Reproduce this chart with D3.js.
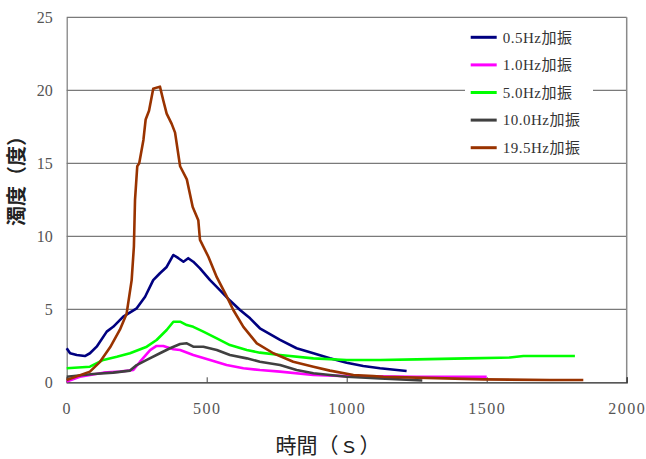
<!DOCTYPE html>
<html>
<head>
<meta charset="utf-8">
<script src="https://cdn.jsdelivr.net/npm/d3@7"></script>
<style>
  body { margin: 0; background: #fff; }
  svg { display: block; }
</style>
</head>
<body>
<div id="chart"></div>
<script>
// series: time (s) and turbidity (度)
var names = ["0.5Hz加振", "1.0Hz加振", "5.0Hz加振", "10.0Hz加振", "19.5Hz加振"];
var colors = ["#000080", "#ff00ff", "#00ff00", "#404040", "#993300"];

var t05 = [0, 12, 36, 65, 83, 107, 143, 166, 202, 250, 280, 309, 333, 357, 381, 399, 417, 434, 452, 476, 512, 548, 583, 619, 655, 690, 762, 821, 881, 940, 1000, 1059, 1119, 1214];
var v05 = [2.33, 1.99, 1.87, 1.8, 1.99, 2.44, 3.47, 3.8, 4.5, 5.07, 5.86, 7.0, 7.47, 7.9, 8.72, 8.5, 8.26, 8.5, 8.26, 7.8, 7.0, 6.3, 5.6, 4.95, 4.38, 3.7, 2.9, 2.33, 1.99, 1.64, 1.34, 1.12, 0.96, 0.77];

var t10 = [0, 47, 131, 190, 238, 262, 298, 321, 345, 381, 405, 452, 512, 571, 631, 690, 762, 881, 1000, 1250, 1500];
var v10 = [0.05, 0.38, 0.66, 0.73, 0.84, 1.41, 2.21, 2.49, 2.49, 2.26, 2.21, 1.87, 1.53, 1.18, 0.96, 0.84, 0.73, 0.5, 0.42, 0.38, 0.38];

var t50 = [0, 83, 131, 179, 226, 286, 321, 357, 381, 405, 429, 452, 488, 536, 583, 643, 690, 762, 881, 1000, 1119, 1250, 1429, 1548, 1583, 1631, 1815];
var v50 = [0.96, 1.07, 1.53, 1.75, 1.99, 2.44, 2.9, 3.58, 4.15, 4.15, 3.92, 3.8, 3.47, 3.01, 2.55, 2.21, 2.03, 1.87, 1.64, 1.53, 1.53, 1.57, 1.64, 1.68, 1.7, 1.8, 1.8];

var t100 = [0, 95, 166, 226, 250, 286, 333, 369, 405, 429, 452, 488, 536, 583, 643, 690, 762, 821, 881, 1000, 1119, 1270];
var v100 = [0.38, 0.57, 0.66, 0.8, 1.18, 1.53, 1.99, 2.33, 2.62, 2.67, 2.44, 2.44, 2.21, 1.87, 1.64, 1.41, 1.18, 0.84, 0.62, 0.38, 0.27, 0.12];

var t195 = [0, 83, 119, 155, 190, 214, 232, 240, 244, 252, 259, 274, 282, 294, 309, 324, 333, 345, 357, 375, 387, 405, 429, 450, 470, 476, 506, 536, 571, 595, 631, 679, 738, 809, 881, 940, 1024, 1095, 1131, 1250, 1488, 1726, 1845];
var v195 = [0.16, 0.73, 1.4, 2.4, 3.6, 4.7, 7.0, 9.3, 12.5, 14.8, 15.0, 16.6, 18.0, 18.6, 20.1, 20.2, 20.25, 19.3, 18.4, 17.7, 17.1, 14.8, 13.9, 12.0, 11.1, 9.75, 8.6, 7.2, 5.9, 4.95, 3.8, 2.67, 1.99, 1.41, 1.07, 0.8, 0.5, 0.43, 0.38, 0.32, 0.2, 0.16, 0.16];

var xTicks = [0, 500, 1000, 1500, 2000];
var yTicks = [0, 5, 10, 15, 20, 25];

var seriesT = [t05, t10, t50, t100, t195];
var seriesV = [v05, v10, v50, v100, v195];

var margin = {top: 17.3, right: 19.3, bottom: 76.7, left: 66.7},
    width = 646 - margin.left - margin.right,
    height = 459 - margin.top - margin.bottom;

var svg = d3.select("#chart")
  .append("svg")
    .attr("width", 646)
    .attr("height", 459)
  .append("g")
    .attr("transform", "translate(" + margin.left + "," + margin.top + ")");

var x = d3.scaleLinear().domain([0, 2000]).range([0, width]);
var y = d3.scaleLinear().domain([0, 25]).range([height, 0]);

// gridlines
svg.append("g")
  .selectAll("line")
  .data(yTicks.slice(1))
  .enter()
  .append("line")
    .attr("x1", 0)
    .attr("x2", width)
    .attr("y1", function (d) { return y(d); })
    .attr("y2", function (d) { return y(d); })
    .style("stroke", "#7a7a7a")
    .style("stroke-width", 1.2);

// right border
svg.append("line")
  .attr("x1", width).attr("x2", width)
  .attr("y1", 0).attr("y2", height)
  .style("stroke", "#8a8a8a")
  .style("stroke-width", 1.5);

// axes
var yAxis = svg.append("g")
  .call(d3.axisLeft(y).tickValues(yTicks).tickSize(0).tickPadding(14));
yAxis.select(".domain").style("stroke", "#7a7a7a").style("stroke-width", 1.2);
yAxis.selectAll("text")
  .style("font-family", "'Liberation Serif', 'Times New Roman', serif")
  .style("font-size", "16px")
  .style("fill", "#555");

var xAxis = svg.append("g")
  .attr("transform", "translate(0," + height + ")")
  .call(d3.axisBottom(x).tickValues(xTicks).tickFormat(d3.format("d")).tickSize(-5).tickPadding(20));
xAxis.select(".domain").style("stroke", "#222").style("stroke-width", 1.2);
xAxis.selectAll(".tick line").style("stroke", "#444");
xAxis.selectAll("text")
  .style("font-family", "'Liberation Serif', 'Times New Roman', serif")
  .style("font-size", "16px")
  .style("letter-spacing", "1.5px")
  .style("fill", "#555");

// legend background
var legend = svg.append("g").attr("transform", "translate(" + (465 - margin.left) + "," + (24 - margin.top) + ")");
legend.append("rect")
  .attr("width", 128)
  .attr("height", 136)
  .style("fill", "#fff");

// lines
var line = d3.line()
  .x(function (d) { return x(d[0]); })
  .y(function (d) { return y(d[1]); });

svg.append("g")
  .selectAll("path")
  .data(seriesT)
  .enter()
  .append("path")
    .attr("d", function (d, i) { return line(d3.zip(d, seriesV[i])); })
    .style("fill", "none")
    .style("stroke", function (d, i) { return colors[i]; })
    .style("stroke-width", 2.6)
    .style("stroke-linejoin", "round");

var rows = legend.selectAll(".row")
  .data(names)
  .enter()
  .append("g")
    .attr("transform", function (d, i) { return "translate(0," + (13.3 + i * 27.6) + ")"; });
rows.append("line")
  .attr("x1", 5.7).attr("x2", 31.7)
  .style("stroke", function (d, i) { return colors[i]; })
  .style("stroke-width", 3);
rows.append("text")
  .attr("x", 37.7)
  .attr("dy", "0.35em")
  .text(function (d) { return d; })
  .style("font-family", "'Liberation Serif', 'Noto Sans CJK JP', serif")
  .style("font-size", "15px")
  .style("letter-spacing", "0.5px")
  .style("fill", "#333");

// axis titles
d3.select("svg").append("text")
  .attr("transform", "translate(24,176) rotate(-90)")
  .attr("text-anchor", "middle")
  .style("font-family", "'Noto Sans CJK JP', sans-serif")
  .style("font-size", "20px")
  .style("font-weight", "bold")
  .style("fill", "#222")
  .text("濁度（度）");

d3.select("svg").append("text")
  .attr("x", 328)
  .attr("y", 453)
  .attr("text-anchor", "middle")
  .style("font-family", "'Noto Sans CJK JP', sans-serif")
  .style("font-size", "21px")
  .style("fill", "#222")
  .text("時間（ｓ）");
</script>
</body>
</html>
